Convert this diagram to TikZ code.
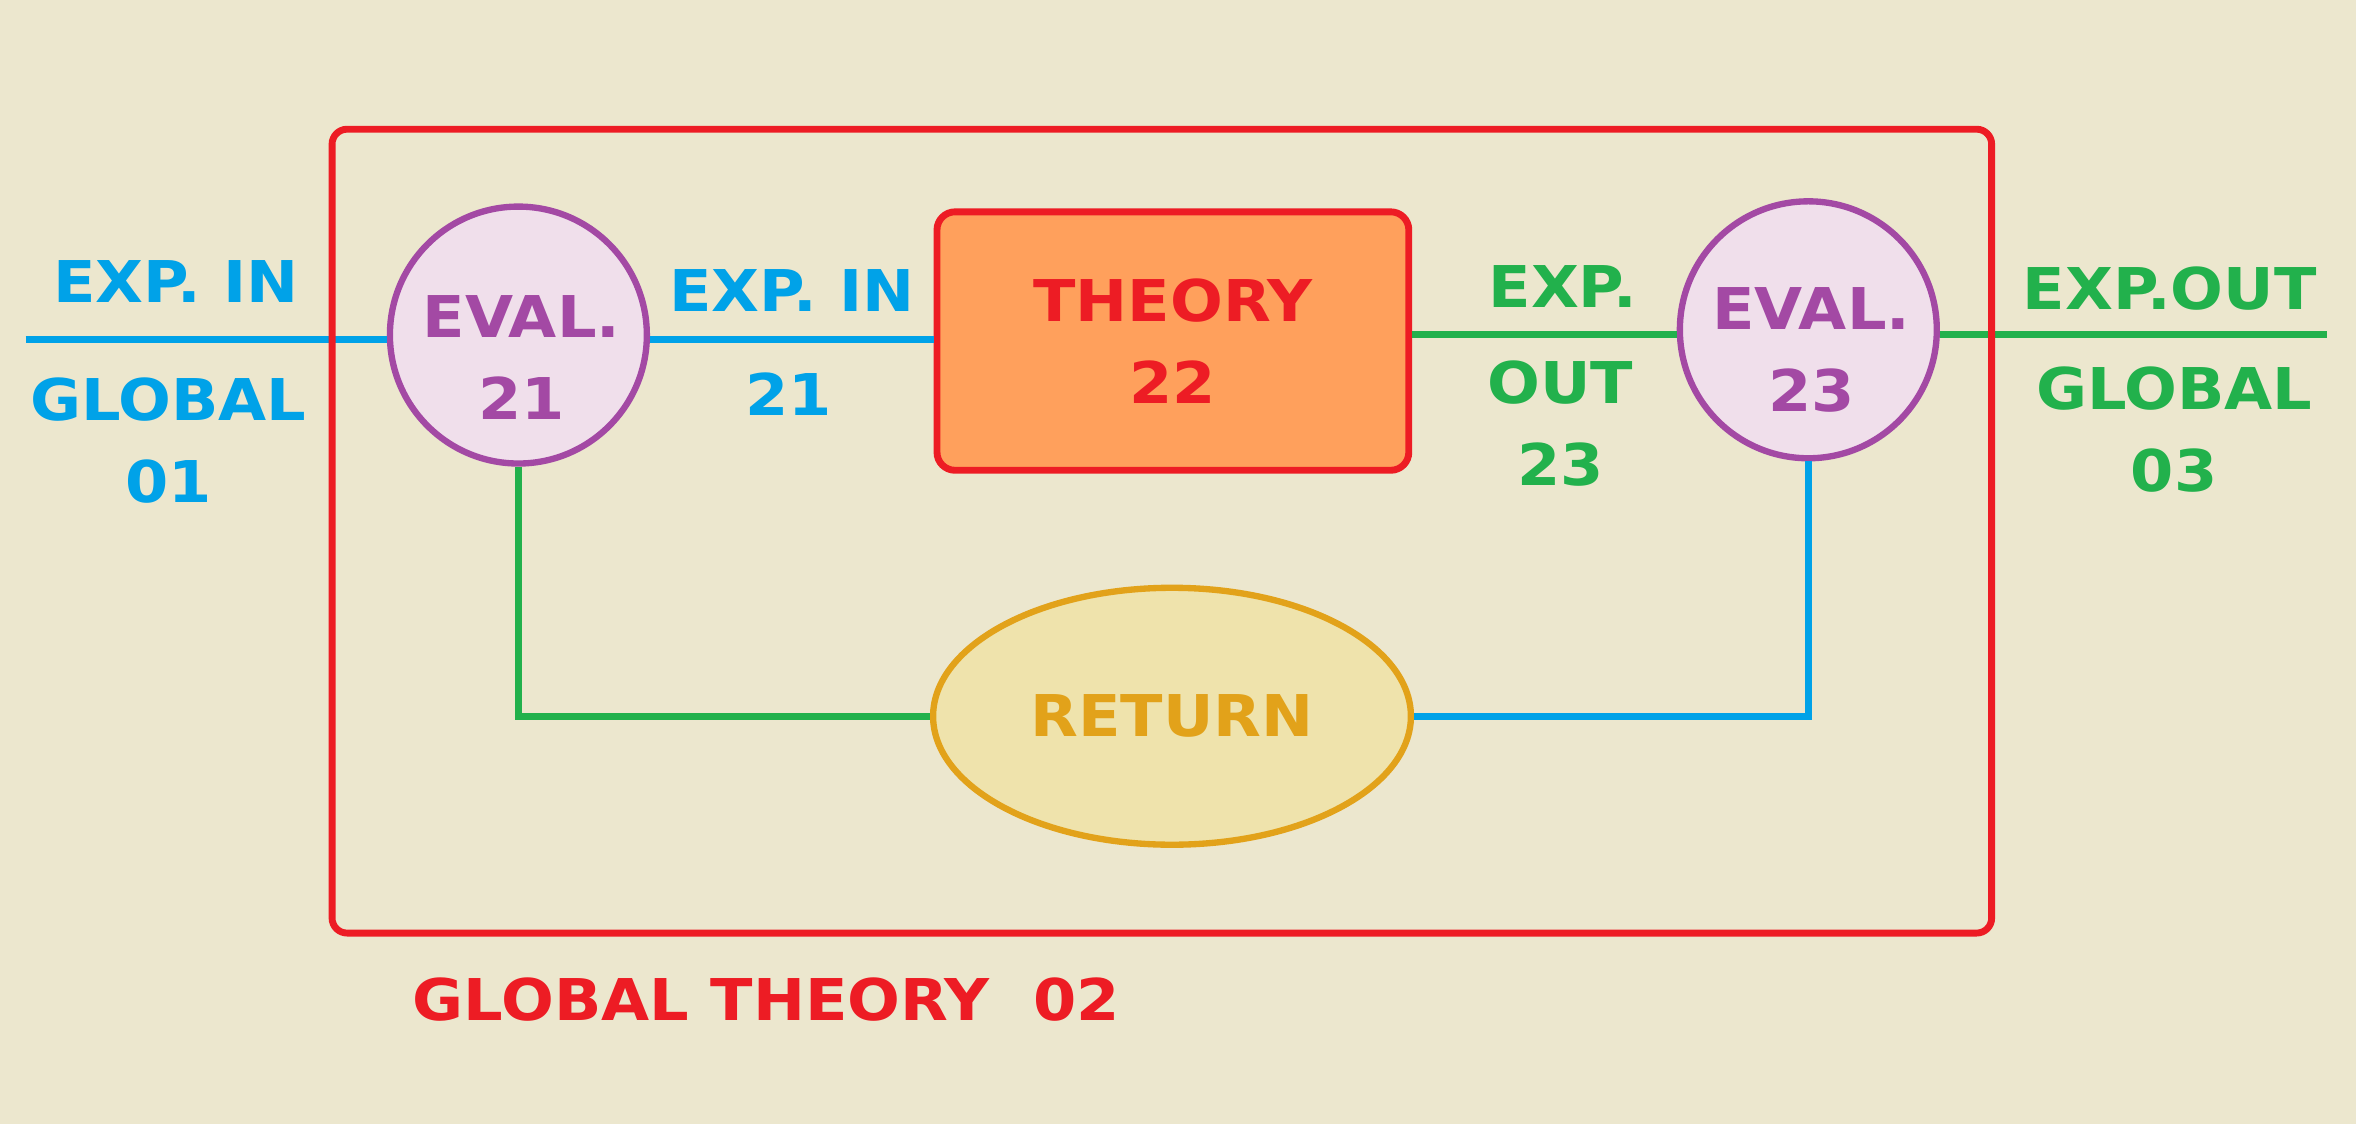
\documentclass[tikz,border=0pt]{standalone}
\usepackage{fontspec}
\newfontfamily\techfont{DejaVu Sans}[FakeStretch=1.08]
\usetikzlibrary{shapes.geometric}
\definecolor{paper}{RGB}{236, 231, 206}
\definecolor{frame_red}{RGB}{237, 28, 36}
\definecolor{sky_blue}{RGB}{0, 162, 232}
\definecolor{leaf_green}{RGB}{34, 177, 76}
\definecolor{plum}{RGB}{163, 73, 164}
\definecolor{blush}{RGB}{240, 223, 235}
\definecolor{apricot}{RGB}{255, 160, 92}
\definecolor{amber}{RGB}{226, 162, 26}
\definecolor{straw}{RGB}{239, 227, 172}
\def \GT {\techfont\bfseries\fontsize{10.9}{15.5}\selectfont}

\begin{document}
\begin{tikzpicture}[
    txt/.style={
        font=\GT,
        text=#1,
        align=center,
        inner sep=0pt
    },
    evalnode/.style={
        circle,
        draw=plum,
        fill=blush,
        line width=1.2pt,
        minimum size=1.71cm,
        inner sep=0pt
    },
    theorynode/.style={
        rectangle,
        rounded corners=0.12cm,
        draw=frame_red,
        fill=apricot,
        line width=1.3pt,
        minimum width=3.14cm,
        minimum height=1.72cm,
        text=frame_red,
        font=\GT,
        align=center
    },
    returnnode/.style={
        ellipse,
        draw=amber,
        fill=straw,
        line width=1.2pt,
        minimum width=3.18cm,
        minimum height=1.71cm,
        text=amber,
        font=\GT,
        inner sep=0pt
    },
    link/.style={
        line width=1.4pt, #1,
    },
    outline/.style={
        draw=frame_red,
        line width=1.3pt,
        rounded corners=0.1cm
    }
]

% Background
\fill[paper] (0,0) rectangle (15.68,7.48);

% Main nodes
\node[evalnode, label={[txt=plum, yshift=-0.15cm, xshift=0.02cm]center:EVAL.\\21}] (eval21) at (3.45,5.25) {};
\node[theorynode] (theory) at (7.806,5.21) {THEORY\\22};
\node[evalnode, label={[txt=plum, yshift=-0.135cm, xshift=0.02cm]center:EVAL.\\23}] (eval23) at (12.035,5.285) {};
\node[returnnode] (ret) at (7.80,2.713) {RETURN};

% Free ends of the outer lines
\coordinate (inL) at (0.17,5.22);
\coordinate (outR) at (15.49,5.255);

% Connecting lines
\draw[link=sky_blue] (inL) -- (inL -| eval21.west);
\draw[link=sky_blue] (inL -| eval21.east) -- (inL -| theory.west);
\draw[link=leaf_green] (outR -| theory.east) -- (outR -| eval23.west);
\draw[link=leaf_green] (outR -| eval23.east) -- (outR);
\draw[link=leaf_green] (eval21.south) |- (ret.west);
\draw[link=sky_blue] (eval23.south) |- (ret.east);

% Global theory frame
\draw[outline] (2.21,1.27) rectangle (13.255,6.62);

% Line labels
\node[txt=sky_blue] (expin01) at (1.17,5.605) {EXP. IN};
\node[txt=sky_blue] (global01) at (1.12,4.55) {GLOBAL\\01};
\node[txt=sky_blue] (expin21) at (5.27,5.545) {EXP. IN};
\node[txt=sky_blue] (in21) at (5.25,4.86) {21};
\node[txt=leaf_green] (exp23) at (10.40,5.57) {EXP.};
\node[txt=leaf_green] (out23) at (10.385,4.66) {OUT\\23};
\node[txt=leaf_green] (expout03) at (14.44,5.56) {EXP.OUT};
\node[txt=leaf_green] (global03) at (14.47,4.62) {GLOBAL\\03};
\node[txt=frame_red] (caption) at (5.10,0.826) {GLOBAL THEORY\ \ 02};

\end{tikzpicture}
\end{document}
